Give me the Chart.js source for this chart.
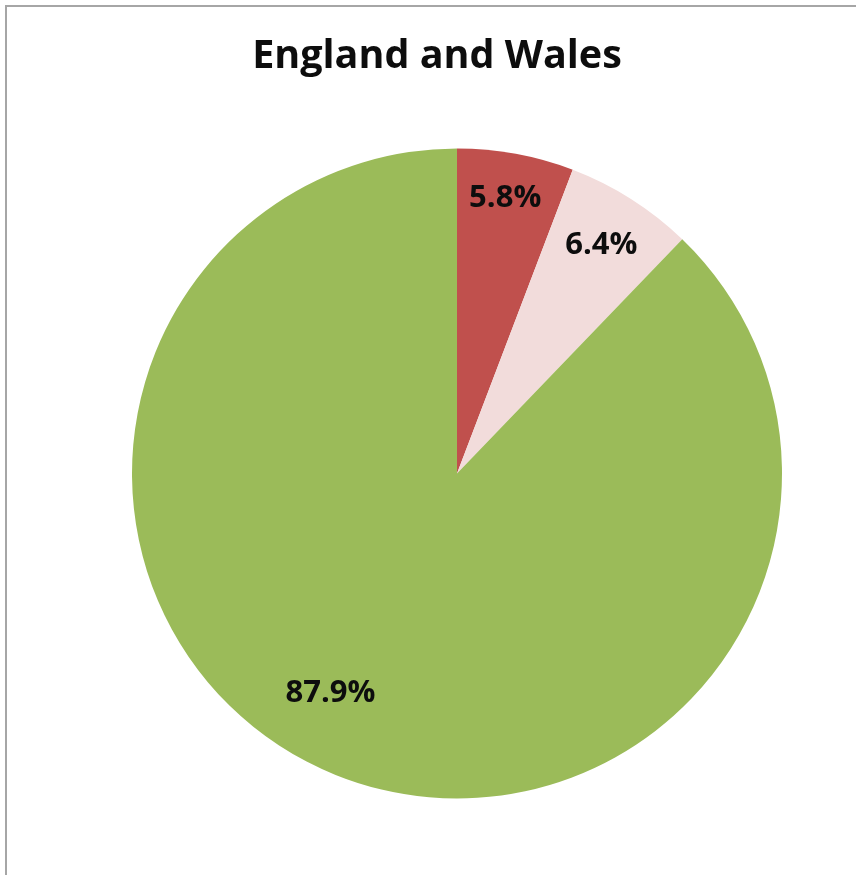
<!DOCTYPE html>
<html>
<head>
<meta charset="utf-8">
<title>England and Wales</title>
<script src="https://cdn.jsdelivr.net/npm/chart.js@4/dist/chart.umd.min.js"></script>
<style>
  html, body { margin: 0; padding: 0; background: #fff; }
  #wrap { position: relative; width: 856px; height: 875px; }
  #frame {
    position: absolute; left: 5px; top: 5px; width: 900px; height: 900px;
    border-left: 2px solid #a6a6a6; border-top: 2px solid #a6a6a6;
    box-sizing: border-box;
  }
  canvas { position: absolute; left: 0; top: 0; }
</style>
</head>
<body>
<div id="wrap">
  <div id="frame"></div>
  <canvas id="pieChart" width="856" height="875"></canvas>
</div>
<script>
// Pie chart data
const chartTitle = 'England and Wales';
const categories = ['Slice A', 'Slice B', 'Slice C'];
const shares = [5.8, 6.4, 87.9];
const shareLabels = ['5.8%', '6.4%', '87.9%'];
const sliceColors = ['#c0504d', '#f2dcdb', '#9bbb59'];

// Label placement inside each slice: radius factor and angle nudge (degrees)
const labelRadius = [0.86, 0.83, 0.78];
const labelNudge = [-0.5, 0, 8];

// Draws the title and the percent labels on top of the pie
const labelPlugin = {
  id: 'sliceLabels',
  afterDraw(chart) {
    const ctx = chart.ctx;
    ctx.save();
    ctx.fillStyle = '#0d0d0d';
    ctx.textAlign = 'center';
    ctx.textBaseline = 'middle';

    ctx.font = 'bold 39.5px "Open Sans"';
    ctx.fillText(chartTitle, 437, 57);

    ctx.font = 'bold 31px "Open Sans"';
    const meta = chart.getDatasetMeta(0);
    meta.data.forEach((arc, i) => {
      const p = arc.getProps(['x', 'y', 'startAngle', 'endAngle', 'outerRadius'], true);
      const mid = (p.startAngle + p.endAngle) / 2 + labelNudge[i] * Math.PI / 180;
      const r = p.outerRadius * labelRadius[i];
      ctx.fillText(shareLabels[i], p.x + Math.cos(mid) * r, p.y + Math.sin(mid) * r);
    });
    ctx.restore();
  }
};

const ctx = document.getElementById('pieChart').getContext('2d');
const pieChart = new Chart(ctx, {
  type: 'pie',
  data: {
    labels: categories,
    datasets: [{
      data: shares,
      backgroundColor: sliceColors,
      borderWidth: 0
    }]
  },
  options: {
    responsive: false,
    animation: false,
    layout: {
      padding: { left: 132, right: 74, top: 148, bottom: 76 }
    },
    plugins: {
      legend: { display: false },
      title: { display: false },
      tooltip: { enabled: false }
    }
  },
  plugins: [labelPlugin]
});
</script>
</body>
</html>
